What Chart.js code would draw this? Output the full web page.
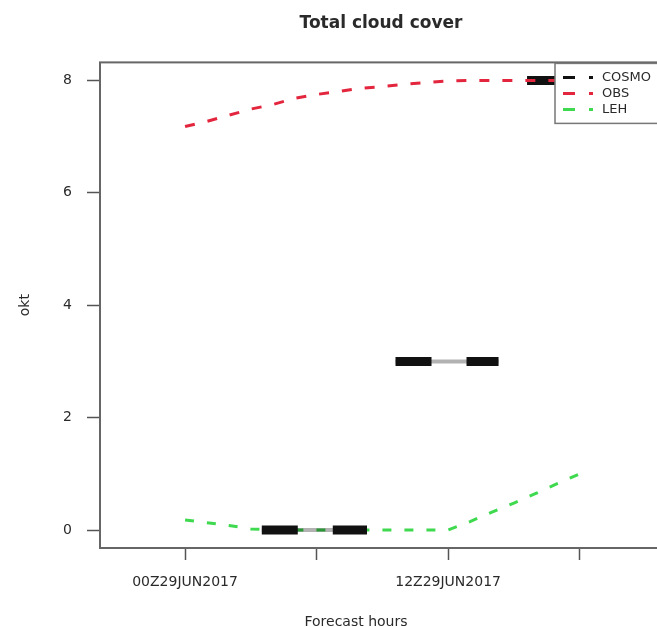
<!DOCTYPE html>
<html>
<head>
<meta charset="utf-8">
<script src="https://cdn.jsdelivr.net/npm/chart.js@4/dist/chart.umd.min.js"></script>
<style>
  html, body { margin: 0; padding: 0; background: #ffffff; overflow: hidden; }
  #wrap { width: 762px; height: 627px; }
</style>
</head>
<body>
<div id="wrap"><canvas id="c" width="762" height="627"></canvas></div>
<script>
// ---- data ----
const xTickHours = [0, 6, 12, 18];
const xTickLabels = ['00Z29JUN2017', '', '12Z29JUN2017', ''];
const yTickValues = [0, 2, 4, 6, 8];
const yTickLabels = ['0', '2', '4', '6', '8'];

const hours = [0, 1, 2, 3, 4, 5, 6, 7, 8, 9, 10, 11, 12, 13, 14, 15, 16, 17, 18];
const obsValues = [7.18, 7.27, 7.38, 7.49, 7.57, 7.68, 7.75, 7.80, 7.86, 7.89, 7.93, 7.96, 7.99, 8, 8, 8, 8, 8, 8];
const lehValues = [0.18, 0.13, 0.08, 0.02, 0, 0, 0, 0, 0, 0, 0, 0, 0, 0.15, 0.32, 0.48, 0.65, 0.83, 1.0];

const cosmoStart = [3.5, 9.6, 15.6];
const cosmoEnd = [8.3, 14.3, 20.3];
const cosmoValues = [0, 3, 8];

const seriesLabels = ['COSMO', 'OBS', 'LEH'];
const titleText = 'Total cloud cover';
const xTitleText = 'Forecast hours';
const yTitleText = 'okt';

// ---- build library structures ----
const cosmoPoints = [];
cosmoValues.forEach((v, i) => {
  cosmoPoints.push({ x: cosmoStart[i], y: v });
  cosmoPoints.push({ x: cosmoEnd[i], y: v });
  if (i < cosmoValues.length - 1) cosmoPoints.push({ x: (cosmoEnd[i] + cosmoStart[i + 1]) / 2, y: null });
});
const obsPoints = hours.map((h, i) => ({ x: h, y: obsValues[i] }));
const lehPoints = hours.map((h, i) => ({ x: h, y: lehValues[i] }));

const FONT = 'DejaVu Sans';
const TXT = '#2a2a2a';

const framePlugin = {
  id: 'frameAndLegend',
  afterDatasetsDraw(chart) {
    const { ctx, chartArea: a } = chart;
    ctx.save();
    // plot frame
    ctx.strokeStyle = '#666';
    ctx.lineWidth = 2;
    ctx.setLineDash([]);
    ctx.strokeRect(a.left, a.top, a.right - a.left, a.bottom - a.top);

    // legend box (top right, inside frame)
    const bx = 555, by = a.top + 1, bw = a.right - bx, bh = 60;
    ctx.fillStyle = '#ffffff';
    ctx.fillRect(bx, by, bw, bh);
    ctx.strokeStyle = '#777';
    ctx.lineWidth = 1.5;
    ctx.strokeRect(bx, by, bw, bh);
    const items = seriesLabels.map(l => chart.data.datasets.find(d => d.inLegend && d.label === l));
    ctx.font = '13px "' + FONT + '"';
    ctx.textBaseline = 'middle';
    ctx.textAlign = 'left';
    items.forEach((d, i) => {
      const y = by + 14 + i * 16;
      ctx.strokeStyle = d.borderColor;
      ctx.lineWidth = 3;
      ctx.setLineDash([12, 14]);
      ctx.beginPath();
      ctx.moveTo(bx + 8, y);
      ctx.lineTo(bx + 38, y);
      ctx.stroke();
      ctx.setLineDash([]);
      ctx.fillStyle = TXT;
      ctx.fillText(d.label, bx + 47, y);
    });

    // x axis title
    ctx.font = '14px "' + FONT + '"';
    ctx.textAlign = 'center';
    ctx.textBaseline = 'alphabetic';
    ctx.fillStyle = TXT;
    ctx.fillText(xTitleText, 356, 626);
    ctx.restore();
  }
};

new Chart(document.getElementById('c'), {
  type: 'line',
  data: {
    datasets: [
      {
        label: seriesLabels[1], inLegend: true, order: 0,
        data: obsPoints, borderColor: '#e3263d', borderWidth: 3,
        borderDash: [10, 13], pointRadius: 0, tension: 0, fill: false
      },
      {
        label: seriesLabels[0], inLegend: true, order: 1,
        data: cosmoPoints, borderColor: '#111111', borderWidth: 9,
        borderDash: [36, 35], borderCapStyle: 'butt', pointRadius: 0, tension: 0, spanGaps: false, fill: false
      },
      {
        label: seriesLabels[0] + ' line', inLegend: false, order: 2,
        data: cosmoPoints, borderColor: 'rgba(0,0,0,0.3)', borderWidth: 4,
        pointRadius: 0, tension: 0, spanGaps: false, fill: false
      },
      {
        label: seriesLabels[2], inLegend: true, order: 3,
        data: lehPoints, borderColor: '#3fd94f', borderWidth: 3,
        borderDash: [9, 13], pointRadius: 0, tension: 0, fill: false
      }
    ]
  },
  options: {
    responsive: false,
    animation: false,
    devicePixelRatio: 1,
    layout: { padding: { left: 0, right: 0, top: 0, bottom: 0 } },
    plugins: {
      legend: { display: false },
      tooltip: { enabled: false },
      title: {
        display: true, text: titleText, color: TXT,
        font: { family: FONT, size: 17, weight: 'bold' },
        padding: { top: 13, bottom: 29 }
      }
    },
    scales: {
      x: {
        type: 'linear', min: -3.88, max: 22.03,
        afterBuildTicks: s => { s.ticks = xTickHours.map(v => ({ value: v })); },
        afterFit: s => { s.height = 79; },
        ticks: {
          autoSkip: false, maxRotation: 0, minRotation: 0,
          callback: (v, i) => xTickLabels[i],
          color: TXT, font: { family: FONT, size: 14 }, padding: 14
        },
        grid: { drawOnChartArea: false, drawTicks: true, tickLength: 12, tickColor: '#555', tickWidth: 1.5 },
        border: { display: false },
        title: { display: false }
      },
      y: {
        type: 'linear', min: -0.32, max: 8.32,
        afterBuildTicks: s => { s.ticks = yTickValues.map(v => ({ value: v })); },
        afterFit: s => { s.width = 100; },
        ticks: {
          autoSkip: false,
          callback: (v, i) => yTickLabels[i],
          color: TXT, font: { family: FONT, size: 14 }, padding: 15
        },
        grid: { drawOnChartArea: false, drawTicks: true, tickLength: 13, tickColor: '#555', tickWidth: 1.5 },
        border: { display: false },
        title: {
          display: true, text: yTitleText, color: TXT,
          font: { family: FONT, size: 14 }, padding: { top: 17, bottom: 0 }
        }
      },
      yRight: {
        type: 'linear', position: 'right', display: true,
        min: -0.32, max: 8.32,
        afterFit: s => { s.width = 94; },
        ticks: { display: false },
        grid: { display: false, drawTicks: false },
        border: { display: false }
      }
    }
  },
  plugins: [framePlugin]
});
</script>
</body>
</html>
